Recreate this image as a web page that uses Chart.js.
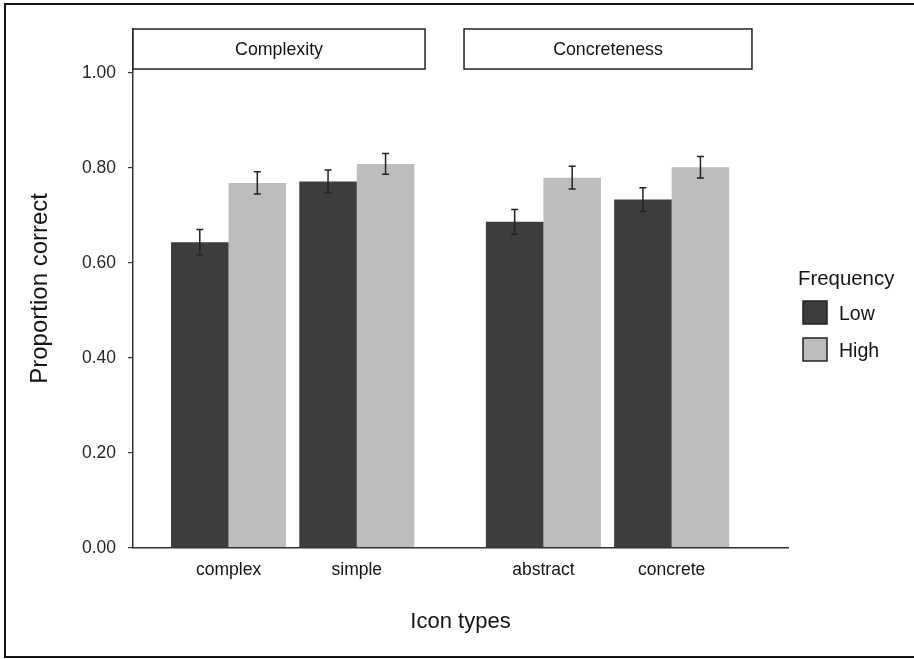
<!DOCTYPE html>
<html>
<head>
<meta charset="utf-8">
<script src="https://cdn.jsdelivr.net/npm/chart.js@4.4.1/dist/chart.umd.min.js"></script>
<style>
  html, body { margin: 0; padding: 0; background: #fff; }
  #wrap { width: 914px; height: 659px; }
</style>
</head>
<body>
<div id="wrap"><canvas id="barChart"></canvas></div>
<script>
// data
const facets = ['Complexity', 'Concreteness'];
const iconTypes = ['complex', 'simple', 'abstract', 'concrete'];
const facetOfType = [0, 0, 1, 1];
const lowValues = [0.643, 0.771, 0.686, 0.733];
const highValues = [0.768, 0.808, 0.779, 0.801];
const lowErrors = [0.027, 0.024, 0.026, 0.025];
const highErrors = [0.0235, 0.022, 0.024, 0.0225];
const yTicks = [0, 0.2, 0.4, 0.6, 0.8, 1.0];

// layout (x in category units)
const facetStart = [0.745, 3.2];
const panelBounds = [[0, 2.277], [2.581, 4.826]];
const X_MAX = 5.107;
const Y_MAX = 1.092;
const LOW_COLOR = '#3d3d3d';
const HIGH_COLOR = '#bdbdbd';
const INK = '#141414';

const xPos = iconTypes.map((_, i) => {
  const f = facetOfType[i];
  const first = facetOfType.indexOf(f);
  return facetStart[f] + (i - first);
});

Chart.defaults.font.family = "'Liberation Sans', Arial, sans-serif";
Chart.defaults.color = INK;

const errorBars = {
  id: 'errorBars',
  afterDatasetsDraw(chart) {
    const { ctx } = chart;
    const y = chart.scales.y;
    ctx.save();
    ctx.strokeStyle = '#222';
    ctx.lineWidth = 1.5;
    chart.data.datasets.forEach((ds, di) => {
      chart.getDatasetMeta(di).data.forEach((bar, i) => {
        const v = ds.data[i].y, e = ds.errors[i];
        const top = y.getPixelForValue(v + e), bot = y.getPixelForValue(v - e);
        ctx.beginPath();
        ctx.moveTo(bar.x, top); ctx.lineTo(bar.x, bot);
        ctx.moveTo(bar.x - 3.5, top); ctx.lineTo(bar.x + 3.5, top);
        ctx.moveTo(bar.x - 3.5, bot); ctx.lineTo(bar.x + 3.5, bot);
        ctx.stroke();
      });
    });
    ctx.restore();
  }
};

const facetStrips = {
  id: 'facetStrips',
  afterDraw(chart) {
    const { ctx, chartArea } = chart;
    const x = chart.scales.x;
    const y = chart.scales.y;
    const stripTop = chartArea.top;
    const stripBot = y.getPixelForValue(Y_MAX) + 40;
    ctx.save();
    facets.forEach((name, f) => {
      const l = x.getPixelForValue(panelBounds[f][0]);
      const r = x.getPixelForValue(panelBounds[f][1]);
      ctx.fillStyle = '#fff';
      ctx.fillRect(l, stripTop, r - l, stripBot - stripTop);
      ctx.strokeStyle = '#222';
      ctx.lineWidth = 1.5;
      ctx.strokeRect(l, stripTop, r - l, stripBot - stripTop);
      ctx.fillStyle = INK;
      ctx.font = "17.8px 'Liberation Sans', Arial, sans-serif";
      ctx.textAlign = 'center';
      ctx.textBaseline = 'middle';
      ctx.fillText(name, (l + r) / 2, (stripTop + stripBot) / 2 + 1);
    });
    ctx.restore();
  }
};

const sideLegend = {
  id: 'sideLegend',
  afterDraw(chart) {
    const { ctx } = chart;
    ctx.save();
    ctx.fillStyle = INK;
    ctx.textAlign = 'left';
    ctx.textBaseline = 'alphabetic';
    ctx.font = "20.4px 'Liberation Sans', Arial, sans-serif";
    ctx.fillText('Frequency', 798, 285);
    ctx.font = "19.5px 'Liberation Sans', Arial, sans-serif";
    chart.data.datasets.forEach((ds, i) => {
      const top = 301 + i * 37;
      ctx.fillStyle = ds.backgroundColor;
      ctx.fillRect(803, top, 24, 23);
      ctx.strokeStyle = '#222';
      ctx.lineWidth = 1.5;
      ctx.strokeRect(803, top, 24, 23);
      ctx.fillStyle = INK;
      ctx.fillText(ds.label, 839, top + 19);
    });
    ctx.restore();
  }
};

const frame = {
  id: 'frame',
  beforeDraw(chart) {
    const { ctx, width, height } = chart;
    ctx.save();
    ctx.fillStyle = '#fff';
    ctx.fillRect(0, 0, width, height);
    ctx.restore();
  },
  afterDraw(chart) {
    const { ctx, width } = chart;
    ctx.save();
    ctx.strokeStyle = '#111';
    ctx.lineWidth = 2;
    ctx.beginPath();
    ctx.moveTo(width, 4); ctx.lineTo(5, 4); ctx.lineTo(5, 657); ctx.lineTo(width, 657);
    ctx.stroke();
    ctx.restore();
  }
};

const ctx = document.getElementById('barChart');
new Chart(ctx, {
  type: 'bar',
  data: {
    datasets: [
      {
        label: 'Low',
        data: lowValues.map((v, i) => ({ x: xPos[i], y: v })),
        errors: lowErrors,
        backgroundColor: LOW_COLOR,
      },
      {
        label: 'High',
        data: highValues.map((v, i) => ({ x: xPos[i], y: v })),
        errors: highErrors,
        backgroundColor: HIGH_COLOR,
      },
    ],
  },
  options: {
    responsive: true,
    maintainAspectRatio: false,
    animation: false,
    categoryPercentage: 0.897,
    barPercentage: 1.0,
    layout: { padding: { top: 29, right: 126, left: 0, bottom: 0 } },
    plugins: {
      legend: { display: false },
      tooltip: { enabled: false },
    },
    scales: {
      x: {
        type: 'linear',
        offset: false,
        min: 0,
        max: X_MAX,
        afterBuildTicks: (s) => { s.ticks = xPos.map((v) => ({ value: v })); },
        afterFit: (s) => { s.height = 659 - 547.7; },
        grid: { display: false, drawTicks: false },
        border: { display: true, color: '#333', width: 1.5 },
        ticks: {
          padding: 12,
          autoSkip: false,
          maxRotation: 0,
          color: INK,
          font: { size: 17.5 },
          callback: (v, i) => iconTypes[i],
        },
        title: {
          display: true,
          text: 'Icon types',
          color: INK,
          font: { size: 22 },
          padding: { top: 0, bottom: 24 },
        },
      },
      y: {
        min: 0,
        max: Y_MAX,
        afterBuildTicks: (s) => { s.ticks = yTicks.map((v) => ({ value: v })); },
        afterFit: (s) => { s.width = 133; },
        grid: { drawOnChartArea: false, drawTicks: true, tickLength: 5, color: '#333', lineWidth: 1.2 },
        border: { display: true, color: '#333', width: 1.5 },
        ticks: {
          padding: 12,
          color: '#262626',
          font: { size: 17.5 },
          callback: (v) => v.toFixed(2),
        },
        title: {
          display: true,
          text: 'Proportion correct',
          color: INK,
          font: { size: 24 },
          padding: { top: 26, bottom: 0 },
        },
      },
    },
  },
  plugins: [frame, errorBars, facetStrips, sideLegend],
});
</script>
</body>
</html>
